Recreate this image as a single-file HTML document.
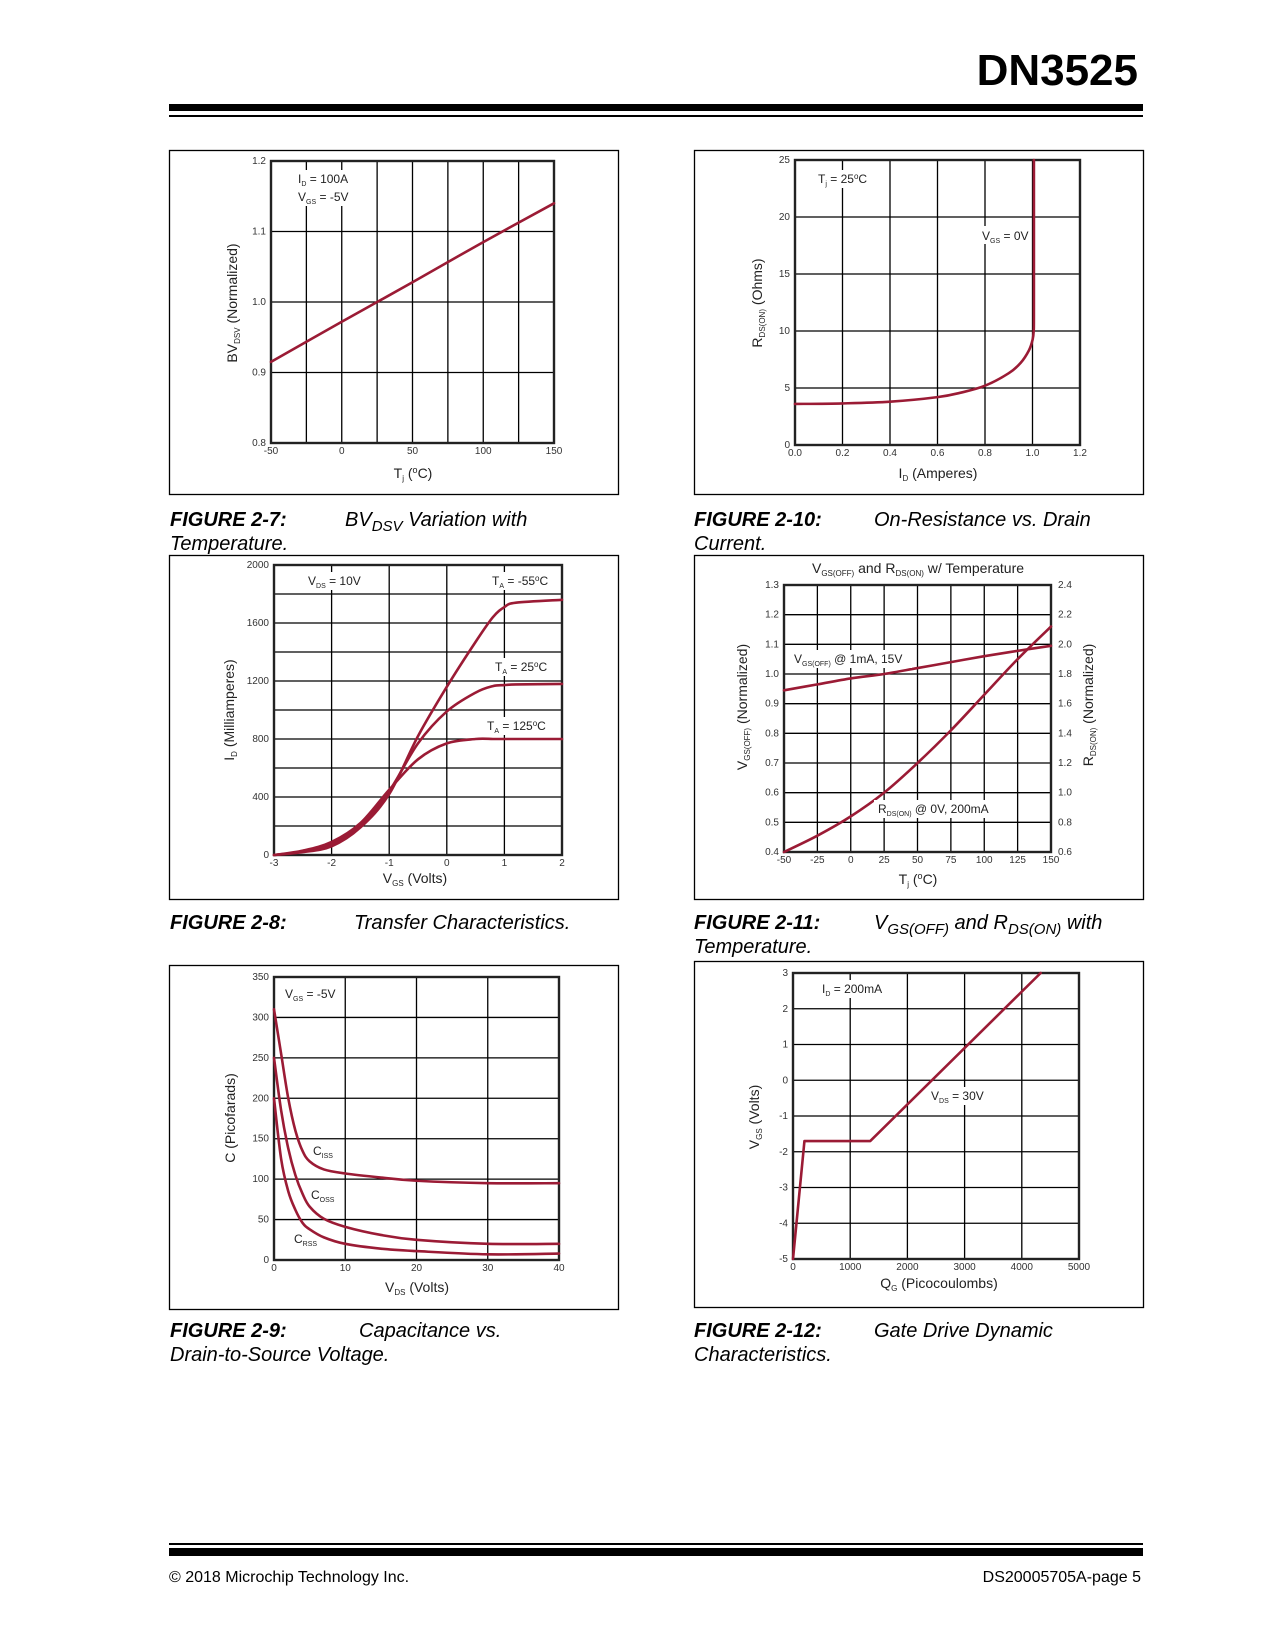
<!DOCTYPE html>
<html><head><meta charset="utf-8"><style>
html,body{margin:0;padding:0;background:#fff;}
svg{display:block;font-family:"Liberation Sans",Arial,sans-serif;}
</style></head><body>
<svg id="page" xmlns="http://www.w3.org/2000/svg" width="1275" height="1650" viewBox="0 0 1275 1650">
<rect x="0" y="0" width="1275" height="1650" fill="#fff"/>
<text x="1138" y="85" font-size="44" font-weight="bold" text-anchor="end">DN3525</text>
<rect x="169" y="104" width="974" height="7" fill="#000"/>
<rect x="169" y="115" width="974" height="2" fill="#000"/>

<rect x="169.5" y="150.5" width="449" height="344" fill="none" stroke="#000" stroke-width="1.3"/>
<rect x="694.5" y="150.5" width="449" height="344" fill="none" stroke="#000" stroke-width="1.3"/>
<rect x="169.5" y="555.5" width="449" height="344" fill="none" stroke="#000" stroke-width="1.3"/>
<rect x="694.5" y="555.5" width="449" height="344" fill="none" stroke="#000" stroke-width="1.3"/>
<rect x="169.5" y="965.5" width="449" height="344" fill="none" stroke="#000" stroke-width="1.3"/>
<rect x="694.5" y="961.5" width="449" height="346" fill="none" stroke="#000" stroke-width="1.3"/>

<g id="charts"></g>

<g id="annots" font-size="12" fill="#222">
<rect x="293" y="170" width="58" height="36" fill="#fff"/>
<text x="298" y="183">I<tspan font-size="7" dy="3">D</tspan><tspan dy="-3"> = 100A</tspan></text>
<text x="298" y="201">V<tspan font-size="7" dy="3">GS</tspan><tspan dy="-3"> = -5V</tspan></text>
<text x="413" y="478" font-size="14" text-anchor="middle">T<tspan font-size="8" dy="3">j</tspan><tspan dy="-3"> (</tspan><tspan font-size="9" dy="-5">o</tspan><tspan dy="5">C)</tspan></text>
<text transform="translate(237,303) rotate(-90)" font-size="14" text-anchor="middle">BV<tspan font-size="8" dy="3">DSV</tspan><tspan dy="-3"> (Normalized)</tspan></text>
<rect x="814" y="170" width="60" height="18" fill="#fff"/>
<text x="818" y="183">T<tspan font-size="7" dy="3">j</tspan><tspan dy="-3"> = 25</tspan><tspan font-size="8" dy="-4">o</tspan><tspan dy="4">C</tspan></text>
<rect x="978" y="226" width="52" height="18" fill="#fff"/>
<text x="982" y="240">V<tspan font-size="7" dy="3">GS</tspan><tspan dy="-3"> = 0V</tspan></text>
<text x="938" y="478" font-size="14" text-anchor="middle">I<tspan font-size="8" dy="3">D</tspan><tspan dy="-3"> (Amperes)</tspan></text>
<text transform="translate(762,303) rotate(-90)" font-size="14" text-anchor="middle">R<tspan font-size="8" dy="3">DS(ON)</tspan><tspan dy="-3"> (Ohms)</tspan></text>
<rect x="304" y="572" width="62" height="18" fill="#fff"/>
<text x="308" y="585">V<tspan font-size="7" dy="3">DS</tspan><tspan dy="-3"> = 10V</tspan></text>
<rect x="488" y="572" width="68" height="18" fill="#fff"/>
<text x="492" y="585">T<tspan font-size="7" dy="3">A</tspan><tspan dy="-3"> = -55</tspan><tspan font-size="8" dy="-4">o</tspan><tspan dy="4">C</tspan></text>
<rect x="491" y="658" width="60" height="18" fill="#fff"/>
<text x="495" y="671">T<tspan font-size="7" dy="3">A</tspan><tspan dy="-3"> = 25</tspan><tspan font-size="8" dy="-4">o</tspan><tspan dy="4">C</tspan></text>
<rect x="483" y="717" width="70" height="18" fill="#fff"/>
<text x="487" y="730">T<tspan font-size="7" dy="3">A</tspan><tspan dy="-3"> = 125</tspan><tspan font-size="8" dy="-4">o</tspan><tspan dy="4">C</tspan></text>
<text x="415" y="883" font-size="14" text-anchor="middle">V<tspan font-size="8" dy="3">GS</tspan><tspan dy="-3"> (Volts)</tspan></text>
<text transform="translate(234,710) rotate(-90)" font-size="14" text-anchor="middle">I<tspan font-size="8" dy="3">D</tspan><tspan dy="-3"> (Milliamperes)</tspan></text>
<rect x="281" y="985" width="58" height="18" fill="#fff"/>
<text x="285" y="998">V<tspan font-size="7" dy="3">GS</tspan><tspan dy="-3"> = -5V</tspan></text>
<text x="313" y="1155">C<tspan font-size="7" dy="3">ISS</tspan></text>
<text x="311" y="1199">C<tspan font-size="7" dy="3">OSS</tspan></text>
<text x="294" y="1243">C<tspan font-size="7" dy="3">RSS</tspan></text>
<text x="417" y="1292" font-size="14" text-anchor="middle">V<tspan font-size="8" dy="3">DS</tspan><tspan dy="-3"> (Volts)</tspan></text>
<text transform="translate(235,1118) rotate(-90)" font-size="14" text-anchor="middle">C (Picofarads)</text>
<text x="918" y="573" font-size="14" text-anchor="middle">V<tspan font-size="8" dy="3">GS(OFF)</tspan><tspan dy="-3"> and R</tspan><tspan font-size="8" dy="3">DS(ON)</tspan><tspan dy="-3"> w/ Temperature</tspan></text>
<rect x="790" y="650" width="122" height="18" fill="#fff"/>
<text x="794" y="663">V<tspan font-size="7" dy="3">GS(OFF)</tspan><tspan dy="-3"> @ 1mA, 15V</tspan></text>
<rect x="874" y="800" width="118" height="18" fill="#fff"/>
<text x="878" y="813">R<tspan font-size="7" dy="3">DS(ON)</tspan><tspan dy="-3"> @ 0V, 200mA</tspan></text>
<text x="918" y="884" font-size="14" text-anchor="middle">T<tspan font-size="8" dy="3">j</tspan><tspan dy="-3"> (</tspan><tspan font-size="9" dy="-5">o</tspan><tspan dy="5">C)</tspan></text>
<text transform="translate(747,707) rotate(-90)" font-size="14" text-anchor="middle">V<tspan font-size="8" dy="3">GS(OFF)</tspan><tspan dy="-3"> (Normalized)</tspan></text>
<text transform="translate(1093,705) rotate(-90)" font-size="14" text-anchor="middle">R<tspan font-size="8" dy="3">DS(ON)</tspan><tspan dy="-3"> (Normalized)</tspan></text>
<rect x="818" y="980" width="68" height="18" fill="#fff"/>
<text x="822" y="993">I<tspan font-size="7" dy="3">D</tspan><tspan dy="-3"> = 200mA</tspan></text>
<rect x="927" y="1087" width="60" height="18" fill="#fff"/>
<text x="931" y="1100">V<tspan font-size="7" dy="3">DS</tspan><tspan dy="-3"> = 30V</tspan></text>
<text x="939" y="1288" font-size="14" text-anchor="middle">Q<tspan font-size="8" dy="3">G</tspan><tspan dy="-3"> (Picocoulombs)</tspan></text>
<text transform="translate(759,1117) rotate(-90)" font-size="14" text-anchor="middle">V<tspan font-size="8" dy="3">GS</tspan><tspan dy="-3"> (Volts)</tspan></text>
</g>

<g font-size="20" font-style="italic" fill="#000">
<text x="170" y="526"><tspan font-weight="bold">FIGURE 2-7:</tspan><tspan x="345">BV</tspan><tspan font-size="15" dy="5">DSV</tspan><tspan dy="-5"> Variation with</tspan><tspan x="170" y="550">Temperature.</tspan></text>
<text x="694" y="526"><tspan font-weight="bold">FIGURE 2-10:</tspan><tspan x="874">On-Resistance vs. Drain</tspan><tspan x="694" y="550">Current.</tspan></text>
<text x="170" y="929"><tspan font-weight="bold">FIGURE 2-8:</tspan><tspan x="354">Transfer Characteristics.</tspan></text>
<text x="694" y="929"><tspan font-weight="bold">FIGURE 2-11:</tspan><tspan x="874">V</tspan><tspan font-size="15" dy="5">GS(OFF)</tspan><tspan dy="-5"> and R</tspan><tspan font-size="15" dy="5">DS(ON)</tspan><tspan dy="-5"> with</tspan><tspan x="694" y="953">Temperature.</tspan></text>
<text x="170" y="1337"><tspan font-weight="bold">FIGURE 2-9:</tspan><tspan x="359">Capacitance vs.</tspan><tspan x="170" y="1361">Drain-to-Source Voltage.</tspan></text>
<text x="694" y="1337"><tspan font-weight="bold">FIGURE 2-12:</tspan><tspan x="874">Gate Drive Dynamic</tspan><tspan x="694" y="1361">Characteristics.</tspan></text>
</g>

<rect x="169" y="1543" width="974" height="2" fill="#000"/>
<rect x="169" y="1548" width="974" height="8" fill="#000"/>
<text x="169" y="1582" font-size="16">© 2018 Microchip Technology Inc.</text>
<text x="1141" y="1582" font-size="16" text-anchor="end">DS20005705A-page 5</text>
</svg>

<script>
// Fig 2-7 data
const bvTemp = [-50, 0, 25, 50, 100, 150];
const bvValues = [0.915, 0.972, 1.0, 1.028, 1.085, 1.14];
const bvXTicks = [-50, 0, 50, 100, 150];
const bvYTicks = ["0.8", "0.9", "1.0", "1.1", "1.2"];
// Fig 2-10 data
const rdsCurrent = [0, 0.2, 0.4, 0.6, 0.7, 0.8, 0.9, 0.95, 0.985, 1.0, 1.005, 1.006, 1.006];
const rdsOhms = [3.6, 3.65, 3.8, 4.2, 4.6, 5.2, 6.3, 7.2, 8.3, 9.2, 10, 12, 25];
const rdsXTicks = ["0.0", "0.2", "0.4", "0.6", "0.8", "1.0", "1.2"];
const rdsYTicks = [0, 5, 10, 15, 20, 25];
// Fig 2-8 data
const vgsX = [-3, -2.5, -2, -1.5, -1, -0.5, 0, 0.5, 0.8, 1, 1.2, 2];
const idMinus55 = [0, 20, 60, 190, 420, 820, 1160, 1470, 1640, 1710, 1740, 1760];
const id25 = [0, 25, 75, 200, 440, 770, 990, 1120, 1165, 1172, 1176, 1180];
const id125 = [0, 30, 90, 220, 450, 660, 770, 800, 800, 800, 800, 800];
const trXTicks = [-3, -2, -1, 0, 1, 2];
const trYTicks = [0, 400, 800, 1200, 1600, 2000];
// Fig 2-9 data
const vdsX = [0, 1, 2, 3, 4, 5, 7, 10, 15, 20, 30, 40];
const ciss = [310, 255, 200, 160, 135, 122, 112, 107, 102, 98, 95, 95];
const coss = [250, 185, 138, 105, 82, 66, 51, 41, 31, 25, 20, 20];
const crss = [200, 125, 85, 62, 46, 38, 28, 20, 14, 11, 7, 8];
const capXTicks = [0, 10, 20, 30, 40];
const capYTicks = [0, 50, 100, 150, 200, 250, 300, 350];
// Fig 2-11 data
const tjX = [-50, -25, 0, 25, 50, 75, 100, 125, 150];
const vgsOff = [0.945, 0.965, 0.985, 1.0, 1.02, 1.04, 1.06, 1.078, 1.095];
const rdsOnNorm = [0.6, 0.71, 0.84, 1.0, 1.2, 1.42, 1.66, 1.9, 2.12];
const tXTicks = [-50, -25, 0, 25, 50, 75, 100, 125, 150];
const tLeftTicks = ["0.4", "0.5", "0.6", "0.7", "0.8", "0.9", "1.0", "1.1", "1.2", "1.3"];
const tRightTicks = ["0.6", "0.8", "1.0", "1.2", "1.4", "1.6", "1.8", "2.0", "2.2", "2.4"];
// Fig 2-12 data
const qgX = [0, 200, 1350, 4330];
const vgsQ = [-5, -1.7, -1.7, 3];
const qXTicks = [0, 1000, 2000, 3000, 4000, 5000];
const qYTicks = [-5, -4, -3, -2, -1, 0, 1, 2, 3];

const NS = "http://www.w3.org/2000/svg";
const root = document.getElementById("charts");
const RED = "#9b1b35";

function el(tag, attrs, parent, name) {
  const e = document.createElementNS(NS, tag);
  for (const k in attrs) e.setAttribute(k, attrs[k]);
  
  
  parent.appendChild(e);
  return e;
}

function makeChart(c) {
  const g = el("g", {}, root, c.name);
  const sx = v => c.x0 + (v - c.xmin) / (c.xmax - c.xmin) * (c.x1 - c.x0);
  const sy = v => c.y1 - (v - c.ymin) / (c.ymax - c.ymin) * (c.y1 - c.y0);
  c.sx = sx; c.sy = sy;
  for (let v = c.xmin + c.xg; v < c.xmax - 1e-9; v += c.xg)
    el("line", {x1: sx(v), x2: sx(v), y1: c.y0, y2: c.y1, stroke: "#000", "stroke-width": 1.3}, g, "x-gridline");
  for (let v = c.ymin + c.yg; v < c.ymax - 1e-9; v += c.yg)
    el("line", {x1: c.x0, x2: c.x1, y1: sy(v), y2: sy(v), stroke: "#000", "stroke-width": 1.3}, g, "y-gridline");
  el("rect", {x: c.x0, y: c.y0, width: c.x1 - c.x0, height: c.y1 - c.y0, fill: "none", stroke: "#222", "stroke-width": 2.4}, g, "plot-border");
  c.xt.forEach(t => {
    const t2 = el("text", {x: sx(+t), y: c.y1 + 11, "font-size": 10, fill: "#333", "text-anchor": "middle"}, g, "x-tick-label");
    t2.textContent = t;
  });
  c.yt.forEach(t => {
    const t2 = el("text", {x: c.x0 - 5, y: sy(+t) + 3, "font-size": 10, fill: "#333", "text-anchor": "end"}, g, "y-tick-label");
    t2.textContent = t;
  });
  return g;
}

function pathD(c, xs, ys, smooth, syf) {
  const f = syf || c.sy;
  const p = xs.map((x, i) => [c.sx(x), f(ys[i])]);
  let d = "M" + p[0][0].toFixed(2) + "," + p[0][1].toFixed(2);
  for (let i = 0; i < p.length - 1; i++) {
    if (!smooth) { d += " L" + p[i + 1][0].toFixed(2) + "," + p[i + 1][1].toFixed(2); continue; }
    const p0 = p[i - 1] || p[i], p1 = p[i], p2 = p[i + 1], p3 = p[i + 2] || p2;
    const c1 = [p1[0] + (p2[0] - p0[0]) / 6, p1[1] + (p2[1] - p0[1]) / 6];
    const c2 = [p2[0] - (p3[0] - p1[0]) / 6, p2[1] - (p3[1] - p1[1]) / 6];
    d += " C" + c1.map(n => n.toFixed(2)).join(",") + " " + c2.map(n => n.toFixed(2)).join(",") + " " + p2.map(n => n.toFixed(2)).join(",");
  }
  return d;
}
function series(g, c, xs, ys, name, smooth, syf) {
  el("path", {d: pathD(c, xs, ys, smooth, syf), fill: "none", stroke: RED, "stroke-width": 2.6, "stroke-linejoin": "round", "stroke-linecap": "round"}, g, name);
}

let c1 = {name: "bv-temperature-chart", x0: 271, x1: 554, y0: 161, y1: 443, xmin: -50, xmax: 150, ymin: 0.8, ymax: 1.2, xg: 25, yg: 0.1, xt: bvXTicks, yt: bvYTicks};
let g1 = makeChart(c1);
series(g1, c1, bvTemp, bvValues, "bvdsv-line", true);

let c2 = {name: "rds-on-chart", x0: 795, x1: 1080, y0: 160, y1: 445, xmin: 0, xmax: 1.2, ymin: 0, ymax: 25, xg: 0.2, yg: 5, xt: rdsXTicks, yt: rdsYTicks};
let g2 = makeChart(c2);
series(g2, c2, rdsCurrent, rdsOhms, "rds-on-curve", true);

let c3 = {name: "transfer-chart", x0: 274, x1: 562, y0: 565, y1: 855, xmin: -3, xmax: 2, ymin: 0, ymax: 2000, xg: 1, yg: 200, xt: trXTicks, yt: trYTicks};
let g3 = makeChart(c3);
series(g3, c3, vgsX, idMinus55, "id-minus55-curve", true);
series(g3, c3, vgsX, id25, "id-25-curve", true);
series(g3, c3, vgsX, id125, "id-125-curve", true);

let c4 = {name: "capacitance-chart", x0: 274, x1: 559, y0: 977, y1: 1260, xmin: 0, xmax: 40, ymin: 0, ymax: 350, xg: 10, yg: 50, xt: capXTicks, yt: capYTicks};
let g4 = makeChart(c4);
series(g4, c4, vdsX, ciss, "ciss-curve", true);
series(g4, c4, vdsX, coss, "coss-curve", true);
series(g4, c4, vdsX, crss, "crss-curve", true);

let c5 = {name: "temperature-chart", x0: 784, x1: 1051, y0: 585, y1: 852, xmin: -50, xmax: 150, ymin: 0.4, ymax: 1.3, xg: 25, yg: 0.1, xt: tXTicks, yt: tLeftTicks};
let g5 = makeChart(c5);
const syR = v => c5.y1 - (v - 0.6) / (2.4 - 0.6) * (c5.y1 - c5.y0);
tRightTicks.forEach(t => {
  const t2 = el("text", {x: c5.x1 + 7, y: syR(+t) + 3, "font-size": 10, fill: "#333", "text-anchor": "start"}, g5, "right-y-tick-label");
  t2.textContent = t;
});
series(g5, c5, tjX, vgsOff, "vgsoff-line", true);
series(g5, c5, tjX, rdsOnNorm, "rdson-line", true, syR);

let c6 = {name: "gate-charge-chart", x0: 793, x1: 1079, y0: 973, y1: 1259, xmin: 0, xmax: 5000, ymin: -5, ymax: 3, xg: 1000, yg: 1, xt: qXTicks, yt: qYTicks};
let g6 = makeChart(c6);
series(g6, c6, qgX, vgsQ, "vgs-qg-line", false);
</script>
</body></html>
